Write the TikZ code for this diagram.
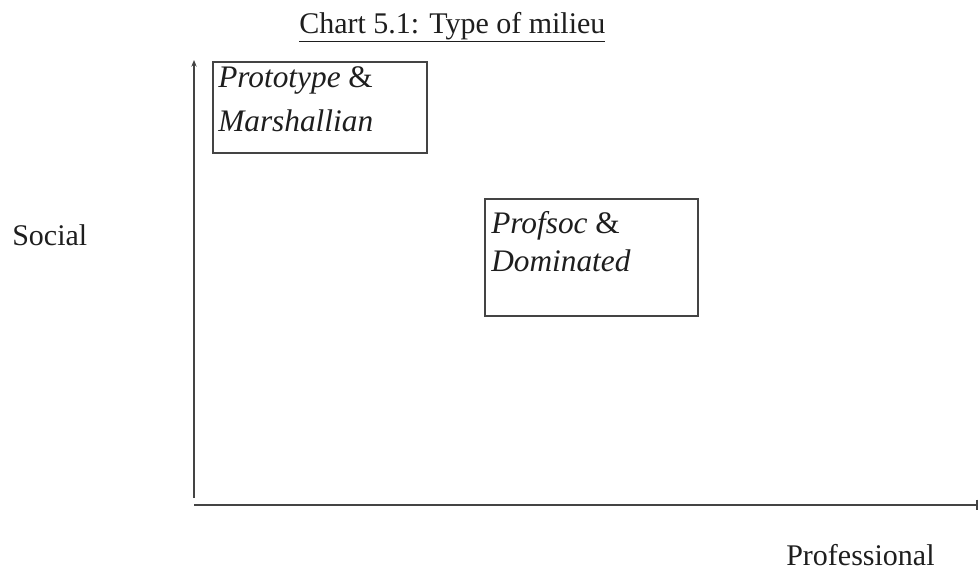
\documentclass[tikz,border=0pt]{standalone}
\usepackage{fontspec}
\setmainfont{Liberation Serif}
\usetikzlibrary{arrows.meta}
\definecolor{axisgray}{HTML}{444444}
\definecolor{inkgray}{HTML}{1E1E1E}
\begin{document}
\begin{tikzpicture}[x=0.75pt,y=-0.75pt,
  axis/.style={draw=axisgray, line width=1.5pt},
  framebox/.style={draw=axisgray, line width=1.5pt, inner sep=0pt},
  lbl/.style={inner sep=0pt, anchor=base west, text=inkgray,
    font=\fontsize{22.5}{27}\selectfont},
  boxtxt/.style={inner sep=0pt, anchor=base west, text=inkgray,
    font=\fontsize{23.5}{28}\selectfont\itshape}]
  % canvas
  \useasboundingbox (0,0) rectangle (979,571);

  % title
  \node[lbl] (title) at (299,33) {\underline{Chart 5.1: Type of milieu}};

  % axes
  \coordinate (ybot) at (194,498);
  \coordinate (ytop) at (194,60);
  \coordinate (xleft) at (194,505);
  \coordinate (xright) at (978,505);
  \draw[axis, -{Stealth[length=5pt,width=4pt]}] (ybot) -- (ytop);
  \draw[axis, -{Bar[width=8pt]}] (xleft) -- (xright);

  % axis labels
  \node[lbl] (social) at (12,245) {Social};
  \node[lbl] (prof) at (786,565) {Professional};

  % boxes
  \node[framebox, minimum width=160.5pt, minimum height=68.25pt] (pm) at (320,107.5) {};
  \node[boxtxt] (pm1) at (218,87) {Prototype {\upshape\&}};
  \node[boxtxt] (pm2) at (218,131) {Marshallian};

  \node[framebox, minimum width=159.75pt, minimum height=87.75pt] (pd) at (591.5,257.5) {};
  \node[boxtxt] (pd1) at (491,233) {Profsoc {\upshape\&}};
  \node[boxtxt] (pd2) at (491,271) {Dominated};
\end{tikzpicture}
\end{document}
